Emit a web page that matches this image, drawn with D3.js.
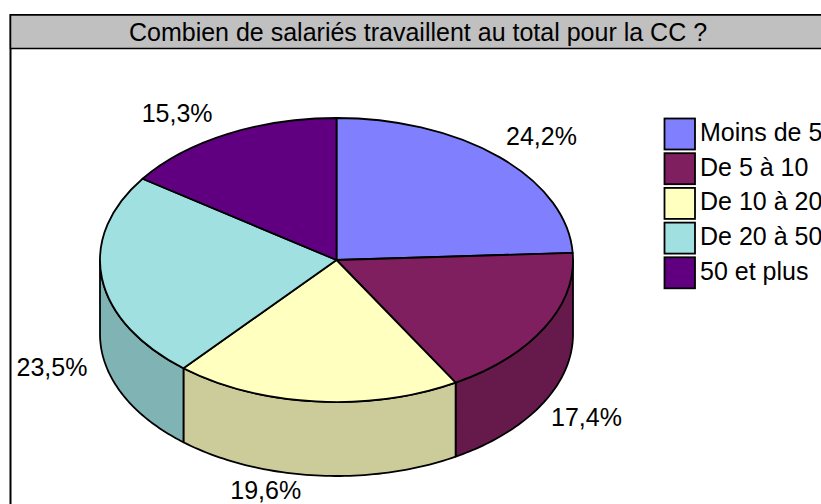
<!DOCTYPE html>
<html>
<head>
<meta charset="utf-8">
<script src="https://cdn.jsdelivr.net/npm/d3@7"></script>
<style>
  html, body { margin: 0; padding: 0; background: #fff; overflow: hidden; }
  svg { display: block; font-family: "Liberation Sans", Arial, sans-serif; }
</style>
</head>
<body>
<script>
const categories = ["Moins de 5", "De 5 à 10", "De 10 à 20", "De 20 à 50", "50 et plus"]
const shares = [24.2, 17.4, 19.6, 23.5, 15.3]
const shareLabels = ["24,2%", "17,4%", "19,6%", "23,5%", "15,3%"]
const topColors = ["#8080ff", "#7f1f5f", "#ffffc0", "#a0e0e0", "#600080"]
const wallColors = ["#6666cc", "#661a4c", "#cccc9a", "#80b3b3", "#4d0066"]
const title = "Combien de salariés travaillent au total pour la CC ?"

const width = 821
const height = 504
const cx = 336.5
const cy = 260
const rx = 236.5
const ry = 142
const depth = 74
const fontSize = 25

const svg = d3.select("body").append("svg")
  .attr("width", width)
  .attr("height", height)

// frame and title band, the right and bottom edges run off the page
svg.append("rect")
  .attr("x", 10.5)
  .attr("y", 15)
  .attr("width", 830)
  .attr("height", 520)
  .attr("fill", "#fff")
  .attr("stroke", "#000")
  .attr("stroke-width", 2)

svg.append("rect")
  .attr("x", 10.5)
  .attr("y", 15)
  .attr("width", 830)
  .attr("height", 33.5)
  .attr("fill", "#c0c0c0")
  .attr("stroke", "#000")
  .attr("stroke-width", 1.5)

svg.append("text")
  .attr("x", 418)
  .attr("y", 40.5)
  .attr("text-anchor", "middle")
  .attr("font-size", fontSize)
  .attr("fill", "#000")
  .text(title)

const pie = d3.pie().sort(null).value(d => d)
const slices = pie(shares)

// screen position of a pie angle on the tilted ellipse, 0 is straight up
const px = a => cx + rx * Math.sin(a)
const py = a => cy - ry * Math.cos(a)

const rim = d3.line().x(d => d[0]).y(d => d[1])

function wallPath(a0, a1) {
  const steps = d3.range(0, 61).map(i => a0 + (a1 - a0) * i / 60)
  const upper = steps.map(a => [px(a), py(a)])
  const lower = steps.slice().reverse().map(a => [px(a), py(a) + depth])
  return rim(upper.concat(lower)) + "Z"
}

const visible = slices
  .map((d, i) => ({
    i,
    a0: Math.max(d.startAngle, Math.PI / 2),
    a1: Math.min(d.endAngle, 3 * Math.PI / 2)
  }))
  .filter(d => d.a1 > d.a0)

svg.append("g")
  .selectAll("path")
  .data(visible)
  .join("path")
  .attr("d", d => wallPath(d.a0, d.a1))
  .attr("fill", d => wallColors[d.i])
  .attr("stroke", "#000")
  .attr("stroke-width", 1.8)
  .attr("stroke-linejoin", "round")

const arc = d3.arc().innerRadius(0).outerRadius(rx)

svg.append("g")
  .attr("transform", `translate(${cx},${cy}) scale(1,${ry / rx})`)
  .selectAll("path")
  .data(slices)
  .join("path")
  .attr("d", arc)
  .attr("fill", (d, i) => topColors[i])
  .attr("stroke", "#000")
  .attr("stroke-width", 1.8)
  .attr("vector-effect", "non-scaling-stroke")
  .attr("stroke-linejoin", "round")

// value labels sit off the rim at the middle of each slice
svg.append("g")
  .selectAll("text")
  .data(slices)
  .join("text")
  .attr("x", d => {
    const a = (d.startAngle + d.endAngle) / 2
    return px(a) + (Math.sin(a) > 0 ? 42 : -50)
  })
  .attr("y", d => {
    const a = (d.startAngle + d.endAngle) / 2
    return py(a) + (Math.cos(a) > 0 ? -20 : 90) + 8
  })
  .attr("text-anchor", "middle")
  .attr("font-size", fontSize)
  .attr("fill", "#000")
  .text((d, i) => shareLabels[i])

const legendY = d3.scaleBand()
  .domain(categories)
  .range([117.5, 291])

const legend = svg.append("g")
  .selectAll("g")
  .data(categories)
  .join("g")
  .attr("transform", d => `translate(664.5,${legendY(d)})`)

legend.append("rect")
  .attr("width", 30.5)
  .attr("height", 31)
  .attr("y", 1)
  .attr("fill", (d, i) => topColors[i])
  .attr("stroke", "#000")
  .attr("stroke-width", 1.8)

legend.append("text")
  .attr("x", 35.5)
  .attr("y", 23.5)
  .attr("font-size", fontSize)
  .attr("fill", "#000")
  .text(d => d)
</script>
</body>
</html>
